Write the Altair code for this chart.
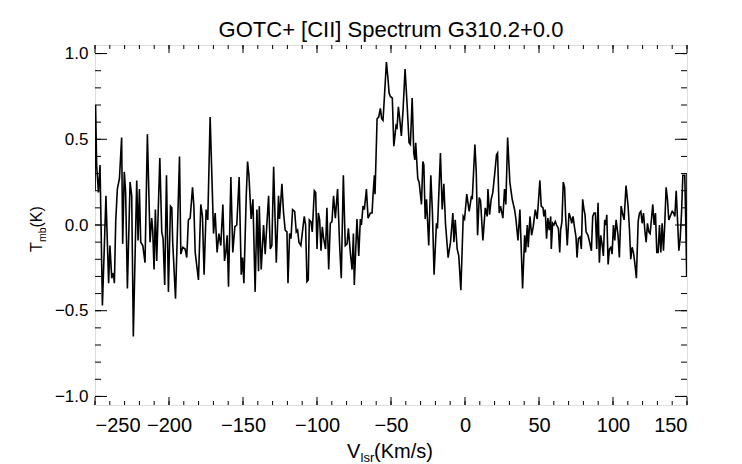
import altair as alt
import pandas as pd

# ---- spectrum data (velocity km/s, Tmb K) ----
vel = [
    -250.0, -249.6, -248.9, -247.7, -246.6, -245.0, -243.9, -242.6, -240.8, -239.9,
    -238.7, -237.6, -236.9, -236.0, -234.9, -233.5, -232.0, -231.3, -230.2, -229.3,
    -228.1, -226.3, -225.2, -224.1, -221.8, -220.9, -220.0, -219.1, -217.7, -216.2,
    -214.6, -212.8, -211.7, -211.0, -210.1, -209.2, -208.3, -206.2, -204.9, -204.0,
    -202.9, -201.7, -200.4, -199.0, -198.1, -197.5, -195.6, -192.9, -192.0, -190.7,
    -189.1, -188.0, -186.9, -185.7, -184.1, -183.2, -182.3, -181.2, -180.1, -178.5,
    -177.4, -176.3, -174.9, -173.8, -172.2, -169.9, -168.8, -167.5, -166.3, -165.0,
    -163.6, -162.5, -161.6, -160.7, -159.8, -158.2, -156.9, -155.5, -154.2, -152.6,
    -151.2, -150.3, -149.4, -147.8, -146.9, -146.0,
    -144.5, -143.3, -141.8, -140.6, -139.5, -139.0, -137.7, -136.1, -135.0, -133.9,
    -132.7, -131.6, -130.5, -129.3, -127.5, -126.0, -125.3, -123.7, -122.6, -121.5,
    -120.3, -119.6, -118.5, -117.6, -116.5, -115.1, -114.0, -113.1, -112.2, -110.9,
    -109.7, -108.6, -107.7, -106.8, -105.9, -105.2, -104.1, -103.2, -101.8, -100.9,
    -100.0, -99.1, -98.2, -97.3, -96.4, -95.5, -94.2, -93.3, -92.1, -91.0,
    -89.9, -88.8, -87.6, -86.1, -84.7, -83.6, -82.2, -80.9, -79.7, -78.8,
    -77.5, -76.3, -75.4, -74.8, -73.0, -71.8, -70.7, -70.0, -68.9, -68.0,
    -66.6, -65.5, -63.9, -62.8, -62.1, -61.2, -60.8, -59.4, -58.3, -57.2,
    -56.3, -55.4, -54.5, -53.1, -52.0, -51.3, -50.4, -49.1,
    -48.1, -46.6, -45.9, -45.0, -44.1, -43.0, -41.8, -40.5, -39.1, -37.8,
    -36.9, -35.7, -34.6, -33.9, -33.3, -31.9, -31.0, -29.4, -28.5, -27.8,
    -26.9, -26.0, -24.5, -23.1, -22.0, -20.9, -19.3, -18.6, -16.6, -15.4,
    -14.3, -13.2, -11.4, -9.8, -8.2, -7.5, -6.6, -5.3, -4.2, -2.8,
    -1.2, -0.3, 1.2, 2.8, 4.4, 4.9, 6.7, 7.6, 8.5, 9.6,
    10.5, 12.1, 13.7, 15.0, 15.5, 16.6, 17.7, 18.8, 20.2, 21.3,
    22.0, 23.1, 24.0, 25.6, 26.7, 27.6, 28.8, 30.3, 31.9, 33.5,
    34.4, 35.8, 37.1, 38.9, 40.3, 40.9, 42.1, 42.7, 43.9, 45.0,
    46.1, 47.5, 48.8, 50.6, 51.5, 52.7, 53.3, 54.2, 55.1, 56.0,
    56.9, 57.9,
    58.3, 59.2, 60.1, 61.0, 61.9, 63.1, 64.0, 64.6, 65.5, 66.4,
    67.3, 68.0, 69.1, 70.3, 71.4, 72.1, 73.0, 74.1, 75.0, 75.7,
    76.6, 77.7, 78.6, 79.5, 80.4, 81.1, 81.8, 83.1, 84.2, 85.4,
    86.3, 87.2, 88.1, 89.0, 89.9, 90.8, 91.7, 92.6, 93.5, 94.4,
    95.1, 95.8, 96.7, 97.6, 98.5, 99.4, 100.3, 101.2, 102.1, 103.4,
    104.3, 105.5, 106.4, 107.5, 108.8, 110.2, 111.1, 112.0, 112.9, 113.8,
    114.7, 115.8, 117.0, 117.9, 118.8, 119.7, 120.6, 121.5, 122.4, 123.3,
    124.2, 125.1, 126.9, 127.8, 128.7, 129.6, 130.5, 131.4, 132.3, 133.2,
    134.1, 135.0, 135.9, 136.8, 137.7, 138.6, 140.0, 140.9, 141.8, 142.7,
    143.6, 144.5, 145.4, 146.3, 147.2, 148.5, 149.3, 149.8, 150.0,
]
tmb = [
    0.20, 0.70, 0.35, 0.19, 0.35, -0.47, -0.18, 0.17, -0.34, -0.12,
    -0.31, -0.28, -0.34, 0.02, 0.21, 0.27, 0.51, -0.11, 0.31, 0.19,
    -0.37, 0.25, 0.17, -0.65, 0.26, -0.09, 0.21, -0.10, -0.12, -0.22,
    0.53, -0.10, 0.04, -0.03, -0.26, 0.09, -0.21, 0.39, -0.04, -0.08,
    -0.35, 0.29, -0.39, 0.11, 0.10, -0.10, -0.43, 0.40, -0.17, -0.13,
    -0.14, -0.19, 0.03, 0.04, 0.22, 0.11, -0.16, -0.24, -0.32, 0.12,
    0.05, -0.29, 0.09, 0.03, 0.63, -0.05, 0.07, -0.16, -0.05, -0.12,
    0.12, -0.21, -0.16, -0.06, -0.36, 0.28, -0.16, -0.01, 0.00, 0.28,
    -0.29, -0.19, -0.34, 0.17, 0.37, 0.29,
    0.035, 0.15, -0.39, 0.09, -0.27, 0.11, -0.26, 0.00, -0.17, 0.00,
    0.17, -0.14, -0.12, 0.34, -0.22, 0.17, 0.035, 0.24, 0.07, -0.03,
    -0.04, -0.34, -0.05, -0.08, 0.09, 0.08, -0.04, -0.03, -0.10, -0.12,
    -0.03, 0.05, 0.00, -0.33, -0.32, 0.03, 0.02, -0.04, 0.20, 0.19,
    -0.14, 0.07, 0.03, -0.15, -0.01, -0.08, -0.14, 0.10, -0.26, 0.01,
    0.02, 0.17, 0.04, 0.21, -0.12, -0.31, 0.29, -0.12, -0.11, -0.02,
    -0.16, -0.26, -0.05, -0.35, 0.035, -0.18, 0.035, 0.00, 0.11, 0.09,
    0.21, 0.04, 0.07, 0.07, 0.18, 0.29, 0.18, 0.62, 0.63, 0.68,
    0.62, 0.61, 0.74, 0.95, 0.85, 0.77, 0.75, 0.74,
    0.46, 0.58, 0.57, 0.69, 0.62, 0.52, 0.68, 0.91, 0.70, 0.48,
    0.47, 0.74, 0.42, 0.38, 0.48, 0.27, 0.25, 0.12, 0.37, 0.35,
    0.035, 0.15, -0.12, 0.29, 0.07, -0.29, 0.01, -0.02, 0.42, 0.09,
    0.24, 0.01, -0.19, -0.10, 0.07, -0.10, 0.03, -0.14, -0.18, -0.38,
    0.05, 0.035, 0.18, 0.08, 0.17, 0.15, 0.47, 0.31, -0.06, 0.16,
    0.14, -0.09, 0.10, 0.05, 0.21, 0.06, 0.15, 0.19, 0.31, 0.41,
    0.42, 0.07, 0.11, 0.04, 0.21, 0.12, 0.51, 0.25, 0.15, 0.09,
    0.035, -0.09, 0.09, -0.37, -0.06, -0.16, 0.00, -0.13, 0.05, -0.06,
    -0.01, 0.09, 0.035, 0.26, 0.11, 0.10, 0.05, 0.09, -0.08, 0.04,
    -0.03, 0.05,
    -0.14, 0.01, 0.00, 0.02, 0.00, -0.02, -0.16, -0.03, 0.02, 0.25,
    0.22, 0.05, -0.12, 0.07, 0.04, 0.01, 0.05, -0.02, -0.07, -0.19,
    -0.08, -0.07, -0.14, 0.15, 0.09, 0.06, -0.04, -0.06, -0.10, -0.15,
    0.05, 0.07, 0.07, -0.14, 0.13, -0.22, -0.06, -0.11, -0.18, 0.03,
    0.00, 0.06, -0.23, -0.14, -0.13, -0.17, 0.00, -0.09, 0.03, -0.06,
    -0.19, 0.11, 0.07, 0.03, 0.23, 0.11, -0.02, -0.20, -0.13, -0.16,
    -0.22, -0.31, 0.02, 0.07, 0.08, 0.01, 0.07, -0.03, -0.10, 0.01,
    -0.04, -0.05, 0.12, 0.00, 0.07, -0.16, -0.16, 0.00, -0.16, 0.01,
    -0.15, 0.01, 0.22, 0.15, 0.03, 0.05, 0.08, 0.07, 0.05, 0.20,
    0.03, -0.15, -0.08, 0.07, 0.29, 0.29, -0.05, -0.30, 0.30,
]

x_major = [-250, -200, -150, -100, -50, 0, 50, 100, 150]
x_minor = list(range(-250, 151, 10))
y_major = [-1.0, -0.5, 0.0, 0.5, 1.0]
y_minor = [round(-1.0 + 0.1 * i, 1) for i in range(21)]

TITLE = "GOTC+ [CII] Spectrum G310.2+0.0"
FONT = "Liberation Sans"
W, H = 592, 360

spec = pd.DataFrame({"v": vel, "t": tmb})

xscale = alt.Scale(domain=[-250, 150], nice=False, zero=False)
yscale = alt.Scale(domain=[-1.05, 1.05], nice=False, zero=False)
xaxis = alt.Axis(values=x_major, format="d", ticks=False, domain=False, grid=False,
                 labelFontSize=20, labelPadding=10, labelFont=FONT, labelColor="black",
                 title=None)
yaxis = alt.Axis(values=y_major, format=".1f", ticks=False, domain=False, grid=False,
                 labelFontSize=17, labelPadding=7, labelFont=FONT, labelColor="black",
                 title=None)

line = alt.Chart(spec).mark_line(color="black", strokeWidth=1.6, clip=True).encode(
    x=alt.X("v:Q", scale=xscale, axis=xaxis),
    y=alt.Y("t:Q", scale=yscale, axis=yaxis),
)

def xticks(vals, length):
    d = pd.DataFrame({"v": vals})
    bottom = alt.Chart(d).mark_rule(color="black", strokeWidth=1).encode(
        x=alt.X("v:Q", scale=xscale, axis=xaxis), y=alt.value(H), y2=alt.value(H - length))
    top = alt.Chart(d).mark_rule(color="black", strokeWidth=1).encode(
        x=alt.X("v:Q", scale=xscale, axis=xaxis), y=alt.value(0), y2=alt.value(length))
    return [bottom, top]

def yticks(vals, length):
    d = pd.DataFrame({"t": vals})
    left = alt.Chart(d).mark_rule(color="black", strokeWidth=1).encode(
        y=alt.Y("t:Q", scale=yscale, axis=yaxis), x=alt.value(0), x2=alt.value(length))
    right = alt.Chart(d).mark_rule(color="black", strokeWidth=1).encode(
        y=alt.Y("t:Q", scale=yscale, axis=yaxis), x=alt.value(W), x2=alt.value(W - length))
    return [left, right]

one = pd.DataFrame({"a": [0]})

def label(text, x, y, size, angle=0, align="left"):
    kw = dict(text=text, font=FONT, fontSize=size, color="black", align=align,
              baseline="alphabetic")
    if angle:
        kw["angle"] = angle
    return alt.Chart(one).mark_text(**kw).encode(x=alt.value(x), y=alt.value(y))

texts = [
    label(TITLE, W / 2, -8, 22, align="center"),
    # x title: V_lsr(Km/s)
    label("V", 252, 413, 20),
    label("lsr", 265.5, 417, 13),
    label("(Km/s)", 279, 413, 20),
    # y title: T_mb(K), rotated
    label("T", -53, 207, 16, angle=270),
    label("mb", -49, 197, 10.5, angle=270),
    label("(K)", -53, 182.5, 16, angle=270),
]

layers = ([line] + xticks(x_minor, 4) + xticks(x_major, 8)
          + yticks(y_minor, 6) + yticks(y_major, 12) + texts)

chart = alt.layer(*layers).properties(
    width=W, height=H,
    autosize=alt.AutoSizeParams(type="none"),
    padding={"left": 87, "top": 37, "right": 40, "bottom": 60},
).configure_view(stroke="black", strokeWidth=1).configure(background="white")

chart.save("out.html", embed_options={"renderer": "svg", "actions": False})
